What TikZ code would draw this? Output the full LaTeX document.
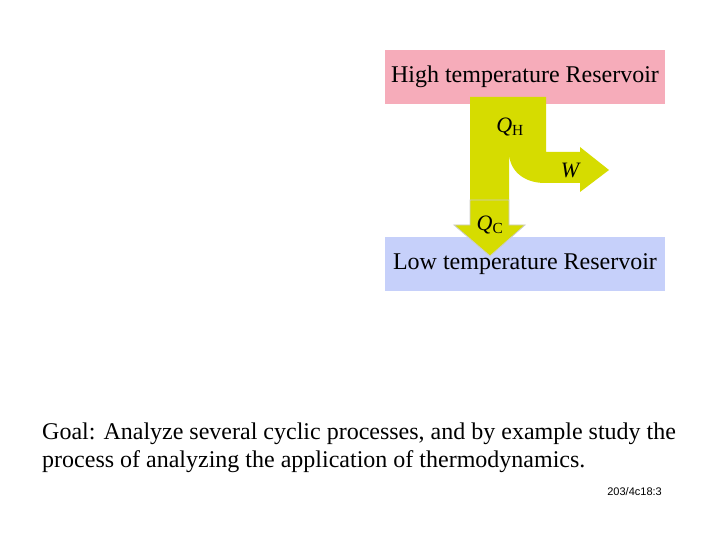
\documentclass[tikz,border=0pt]{standalone}
\usepackage{fontspec}
\setmainfont{Liberation Serif}
\newfontfamily\arialf{Liberation Sans}
\begin{document}
\begin{tikzpicture}[x=1pt,y=-1pt,
  res/.style={minimum width=280pt,minimum height=54pt,inner sep=0pt,font=\fontsize{24}{28}\selectfont},
  lab/.style={font=\fontsize{22}{26}\selectfont,inner sep=0pt}]
\useasboundingbox (0,0) rectangle (720,540);
\fill[white] (0,0) rectangle (720,540);
\definecolor{pinkres}{RGB}{246,172,186}
\definecolor{blueres}{RGB}{198,208,250}
\definecolor{yel}{RGB}{214,220,0}
\node[res,fill=pinkres] (hot) at (525,77) {High temperature Reservoir};
\node[res,fill=blueres] (cold) at (525,264) {Low temperature Reservoir};
\fill[yel] (470,97) -- (546,97) -- (546,152) -- (580,152) -- (580,147) -- (609,170)
  -- (580,192) -- (580,183) -- (545,183) .. controls (523,183) and (509,170) .. (509,152)
  -- (509,200) -- (470,200) -- cycle;
\fill[yel,draw=gray!40,line width=0.8pt] (470,200) -- (509,200) -- (509,225) -- (525,225)
  -- (490,256) -- (454,225) -- (470,225) -- cycle;
\node[lab] (qh) at (510,127) {\itshape Q\textsubscript{\upshape H}};
\node[lab] (w) at (570,170) {\itshape W};
\node[lab] (qc) at (490,225) {\itshape Q\textsubscript{\upshape C}};
\node[anchor=north west,align=left,inner sep=0pt,font=\fontsize{24}{28}\selectfont] (goal) at (42,423)
 {Goal: Analyze several cyclic processes, and by example study the\\process of analyzing the application of thermodynamics.};
\node[anchor=east,inner sep=0pt,font=\arialf\fontsize{11}{13}\selectfont] (pg) at (662,492) {203/4c18:3};
\end{tikzpicture}
\end{document}
